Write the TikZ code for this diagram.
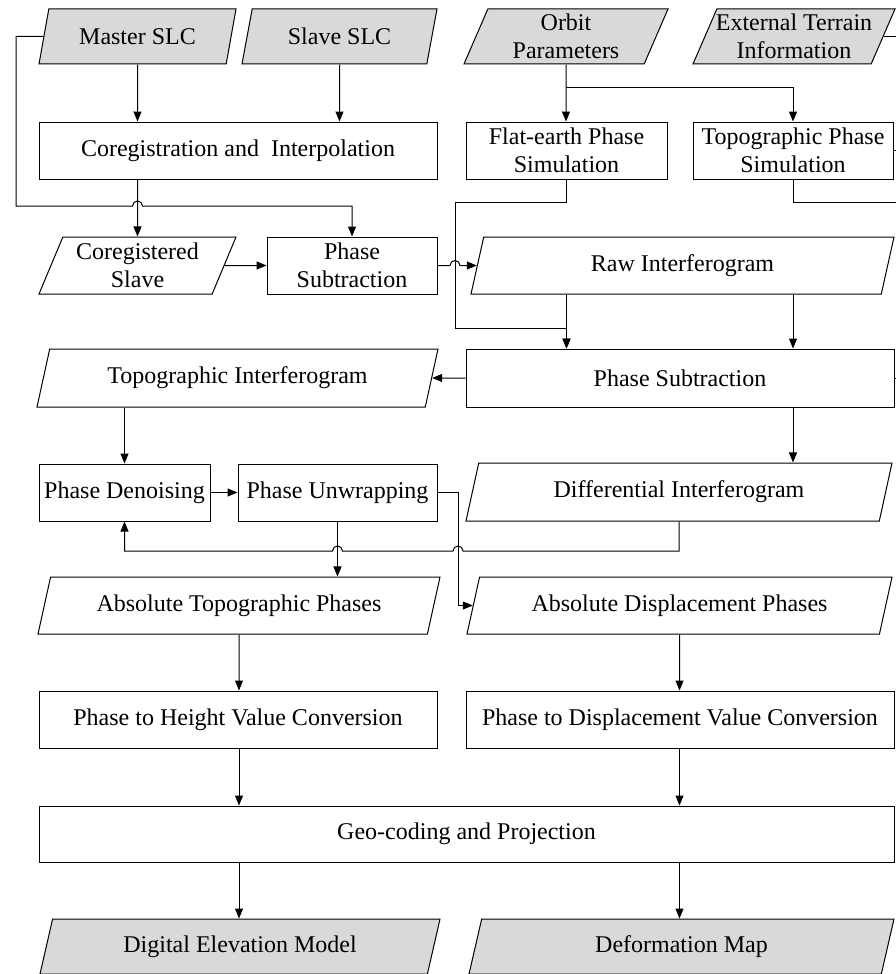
\documentclass[tikz,border=0pt]{standalone}
\usepackage{fontspec}
\setmainfont{Liberation Serif}
\usepackage{tikz}
\usetikzlibrary{shapes}
\usetikzlibrary{arrows.meta}
\usetikzlibrary{calc}
\usetikzlibrary{positioning}

\tikzset{
  proc/.style={draw, rectangle, line width=1pt, minimum height=57pt, inner sep=2pt, align=center},
  data/.style={draw, trapezium, trapezium left angle=64, trapezium right angle=116,
    trapezium stretches body, line width=1pt, minimum height=57pt, inner sep=2pt, align=center},
  source/.style={data, fill=black!15},
  flow/.style={line width=1pt, -{Triangle[length=10pt,width=8pt]}},
  wire/.style={line width=1pt},
}

\begin{document}
\begin{tikzpicture}[x=1pt, y=-1pt, font=\fontsize{24}{28}\selectfont]
  \useasboundingbox (0,0) rectangle (896,974);

  % inputs
  \node[source, minimum width=197pt, minimum height=55pt] (master) at (137.5,36.5) {Master SLC};
  \node[source, minimum width=195pt, minimum height=55pt] (slave) at (339.5,36.5) {Slave SLC};
  \node[source, minimum width=204pt, minimum height=55pt] (orbit) at (566,36.5) {Orbit\\Parameters};
  \node[source, minimum width=202pt, minimum height=55pt, inner xsep=-6pt] (ext) at (794,36.5) {External Terrain\\Information};

  % processing
  \node[proc, minimum width=398pt] (coreg) at (238,150.5) {Coregistration and\ \ Interpolation};
  \node[proc, minimum width=201pt] (flat) at (566.5,150.5) {Flat-earth Phase\\Simulation};
  \node[proc, minimum width=200pt] (topsim) at (793,150.5) {Topographic Phase\\Simulation};
  \node[data, minimum width=197pt] (coslave) at (137.5,265.5) {Coregistered\\Slave};
  \node[proc, minimum width=170pt] (psub1) at (352,265.5) {Phase\\Subtraction};
  \node[data, minimum width=423pt] (raw) at (682.5,265.5) {Raw Interferogram};
  \node[data, minimum width=401pt, minimum height=58pt] (topoif) at (237.5,378) {Topographic Interferogram};
  \node[proc, minimum width=428pt, minimum height=58pt] (psub2) at (680,378) {Phase Subtraction};
  \node[proc, minimum width=171pt] (denoise) at (124.5,492.5) {Phase Denoising};
  \node[proc, minimum width=199pt] (unwrap) at (337.5,492.5) {Phase Unwrapping};
  \node[data, minimum width=426pt, minimum height=58pt] (diffif) at (679,492) {Differential Interferogram};
  \node[data, minimum width=402pt] (abstopo) at (239,605.5) {Absolute Topographic Phases};
  \node[data, minimum width=425pt] (absdisp) at (679.5,605.5) {Absolute Displacement Phases};
  \node[proc, minimum width=398pt] (height) at (238,719.5) {Phase to Height Value Conversion};
  \node[proc, minimum width=428pt] (disp) at (680,719.5) {Phase to Displacement Value Conversion};
  \node[proc, minimum width=855pt, minimum height=56pt] (geo) at (466.5,834) {Geo-coding and Projection};

  % outputs
  \node[source, minimum width=400pt, minimum height=55pt] (dem) at (240,946.5) {Digital Elevation Model};
  \node[source, minimum width=425pt, minimum height=55pt] (defmap) at (681.5,946.5) {Deformation Map};

  % routing points
  \coordinate (lft) at (16,0);
  \coordinate (rgt) at (896,0);
  \coordinate (split) at (0,87);
  \coordinate (jogB) at (0,202);
  \coordinate (jogA) at (0,206);
  \coordinate (fe) at (455,0);
  \coordinate (jogC) at (0,328);
  \coordinate (uv) at (458,0);
  \coordinate (jogD) at (0,551);

  % coregistration
  \draw[flow] (master.south) -- (master |- coreg.north);
  \draw[flow] (slave.south) -- (slave |- coreg.north);
  \draw[flow] (coslave |- coreg.south) -- (coslave.north);
  \draw[flow] (master.west) -| (lft |- jogA) -- ($(master |- jogA)+(-5,0)$)
    arc[start angle=180, end angle=0, radius=5pt] -| (psub1.north);
  \draw[flow] (coslave.east) -- (psub1.west);
  \draw[flow] (psub1.east) -- ($(fe |- psub1.east)+(-5,0)$)
    arc[start angle=180, end angle=0, radius=5pt] -- (raw.west);

  % simulations
  \draw[flow] (orbit.south) -- (orbit |- flat.north);
  \draw[flow] (orbit |- split) -| (topsim.north);
  \draw[wire] (ext.east) -- (ext.east -| rgt);
  \draw[wire] (topsim.east) -- (topsim.east -| rgt);
  \draw[wire] (topsim.south) |- (rgt |- jogB);
  \draw[flow] (flat.south) |- (fe |- jogB) |- (flat |- jogC) -- (flat |- psub2.north);
  \draw[flow] (raw.south -| flat) -- (psub2.north -| flat);
  \draw[flow] (raw.south -| topsim) -- (psub2.north -| topsim);
  \draw[wire] (psub2.east) -- (psub2.east -| rgt);

  % interferograms
  \draw[flow] (psub2.west) -- (topoif.east);
  \draw[flow] (psub2.south -| topsim) -- (diffif.north -| topsim);
  \draw[flow] (topoif.south -| denoise) -- (denoise.north);
  \draw[flow] (denoise.east) -- (unwrap.west);
  \draw[flow] (unwrap.south) -- (unwrap.south |- abstopo.north);
  \draw[flow] (unwrap.east) -| (uv |- absdisp.west) -- (absdisp.west);
  \draw[flow] (diffif.south) |- ($(uv |- jogD)+(5,0)$)
    arc[start angle=0, end angle=180, radius=5pt] -- ($(unwrap.south |- jogD)+(5,0)$)
    arc[start angle=0, end angle=180, radius=5pt] -| (denoise.south);

  % conversion and geocoding
  \draw[flow] (abstopo.south) -- (abstopo |- height.north);
  \draw[flow] (absdisp.south) -- (absdisp |- disp.north);
  \draw[flow] (height.south -| abstopo) -- (geo.north -| abstopo);
  \draw[flow] (disp.south -| absdisp) -- (geo.north -| absdisp);
  \draw[flow] (geo.south -| abstopo) -- (dem.north -| abstopo);
  \draw[flow] (geo.south -| absdisp) -- (defmap.north -| absdisp);
\end{tikzpicture}
\end{document}
